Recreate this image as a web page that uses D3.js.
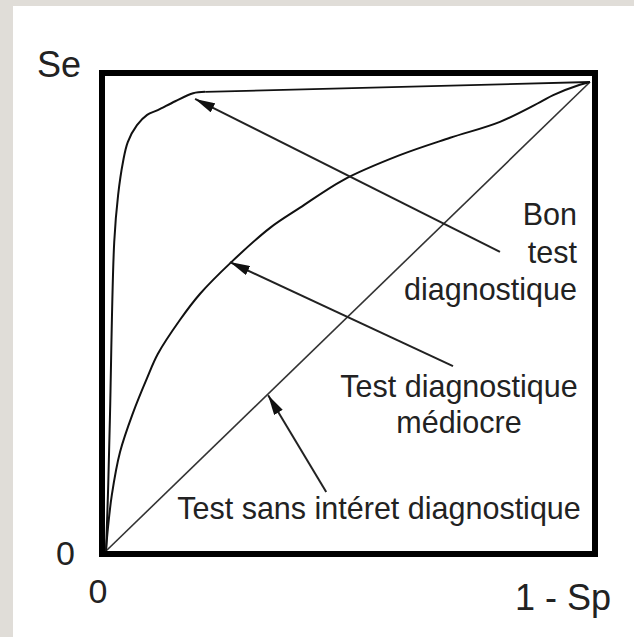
<!DOCTYPE html>
<html>
<head>
<meta charset="utf-8">
<script src="https://cdn.jsdelivr.net/npm/d3@7"></script>
<style>
html, body { margin: 0; padding: 0; background: #e0ddd8; }
svg { display: block; }
</style>
</head>
<body>
<svg id="chart"></svg>
<script>
// ROC curves, 1 - Sp on x, Se on y
var goodFpr = [0, 0.004, 0.008, 0.017, 0.025, 0.035, 0.045, 0.064, 0.085, 0.107, 0.143, 0.180, 0.205, 1];
var goodSe  = [0, 0.120, 0.279, 0.659, 0.759, 0.829, 0.872, 0.908, 0.930, 0.940, 0.959, 0.976, 0.979, 1];

var medFpr = [0, 0.004, 0.012, 0.029, 0.056, 0.085, 0.107, 0.153, 0.194, 0.260, 0.339, 0.401, 0.490, 0.607, 0.711, 0.814, 0.897, 0.924, 0.979, 1];
var medSe  = [0, 0.049, 0.119, 0.211, 0.295, 0.369, 0.420, 0.493, 0.548, 0.617, 0.689, 0.732, 0.791, 0.844, 0.881, 0.915, 0.957, 0.972, 0.994, 1];

var diagFpr = [0, 1];
var diagSe  = [0, 1];

// arrows: tail -> tip, in data units
var arrowFrom = [[0.814, 0.638], [0.717, 0.394], [0.455, 0.126]];
var arrowTo   = [[0.184, 0.964], [0.256, 0.616], [0.335, 0.332]];

var axisTicks = ["0", "0"];
var axisTitles = ["Se", "1 - Sp"];
var labelBon = ["Bon", "test", "diagnostique"];
var labelMed = ["Test diagnostique", "médiocre"];
var labelNul = ["Test sans intéret diagnostique"];

var svgWidth = 634, svgHeight = 637;
var svg = d3.select("#chart")
    .attr("width", svgWidth)
    .attr("height", svgHeight);

// white sheet
svg.append("rect")
    .attr("x", 13).attr("y", 6)
    .attr("width", svgWidth - 13).attr("height", svgHeight - 6)
    .attr("fill", "#ffffff");

var x = d3.scaleLinear().domain([0, 1]).range([106, 590]);
var y = d3.scaleLinear().domain([0, 1]).range([551, 82]);

var line = d3.line()
    .x(function(d) { return x(d[0]); })
    .y(function(d) { return y(d[1]); });

var smooth = d3.line()
    .curve(d3.curveCatmullRom.alpha(0.5))
    .x(function(d) { return x(d[0]); })
    .y(function(d) { return y(d[1]); });

function pairs(a, b) { return a.map(function(v, i) { return [v, b[i]]; }); }

svg.append("defs").append("marker")
    .attr("id", "head")
    .attr("viewBox", "0 0 20 10")
    .attr("refX", 20).attr("refY", 5)
    .attr("markerWidth", 20).attr("markerHeight", 10)
    .attr("markerUnits", "userSpaceOnUse")
    .attr("orient", "auto")
    .append("path")
    .attr("d", "M0,0 L20,5 L0,10 Z")
    .attr("fill", "#111");

svg.append("path")
    .datum(pairs(diagFpr, diagSe))
    .attr("fill", "none")
    .attr("stroke", "#333")
    .attr("stroke-width", 1.6)
    .attr("d", line);

svg.append("path")
    .datum(pairs(medFpr, medSe))
    .attr("fill", "none")
    .attr("stroke", "#111")
    .attr("stroke-width", 2)
    .attr("stroke-linejoin", "round")
    .attr("d", smooth);

// good test: rounded part, then straight run to (1,1)
var good = pairs(goodFpr, goodSe);
svg.append("path")
    .datum(good.slice(0, good.length - 1))
    .attr("fill", "none")
    .attr("stroke", "#111")
    .attr("stroke-width", 2)
    .attr("stroke-linejoin", "round")
    .attr("d", smooth);

svg.append("path")
    .datum(good.slice(good.length - 2))
    .attr("fill", "none")
    .attr("stroke", "#111")
    .attr("stroke-width", 1.8)
    .attr("d", line);

svg.selectAll(".arrow")
    .data(arrowFrom)
    .enter().append("line")
    .attr("class", "arrow")
    .attr("x1", function(d) { return x(d[0]); })
    .attr("y1", function(d) { return y(d[1]); })
    .attr("x2", function(d, i) { return x(arrowTo[i][0]); })
    .attr("y2", function(d, i) { return y(arrowTo[i][1]); })
    .attr("stroke", "#222")
    .attr("stroke-width", 2)
    .attr("marker-end", "url(#head)");

// frame
svg.append("rect")
    .attr("x", 102).attr("y", 73)
    .attr("width", 493).attr("height", 481)
    .attr("fill", "none")
    .attr("stroke", "#000")
    .attr("stroke-width", 6);

var font = "'Liberation Sans', Arial, sans-serif";

function addText(str, tx, ty, size, anchor) {
    svg.append("text")
        .attr("x", tx).attr("y", ty)
        .attr("font-family", font)
        .attr("font-size", size)
        .attr("text-anchor", anchor)
        .attr("fill", "#222")
        .text(str);
}

addText(axisTitles[0], 37, 77, 36, "start");
addText(axisTitles[1], 515, 610, 36, "start");
addText(axisTicks[0], 75, 565, 34, "end");
addText(axisTicks[1], 98, 603, 34, "middle");

labelBon.forEach(function(s, i) { addText(s, 577, 225 + i * 37.5, 30.5, "end"); });
labelMed.forEach(function(s, i) { addText(s, 459, 397 + i * 36, 30.5, "middle"); });
labelNul.forEach(function(s) { addText(s, 379, 519, 30.5, "middle"); });
</script>
</body>
</html>
